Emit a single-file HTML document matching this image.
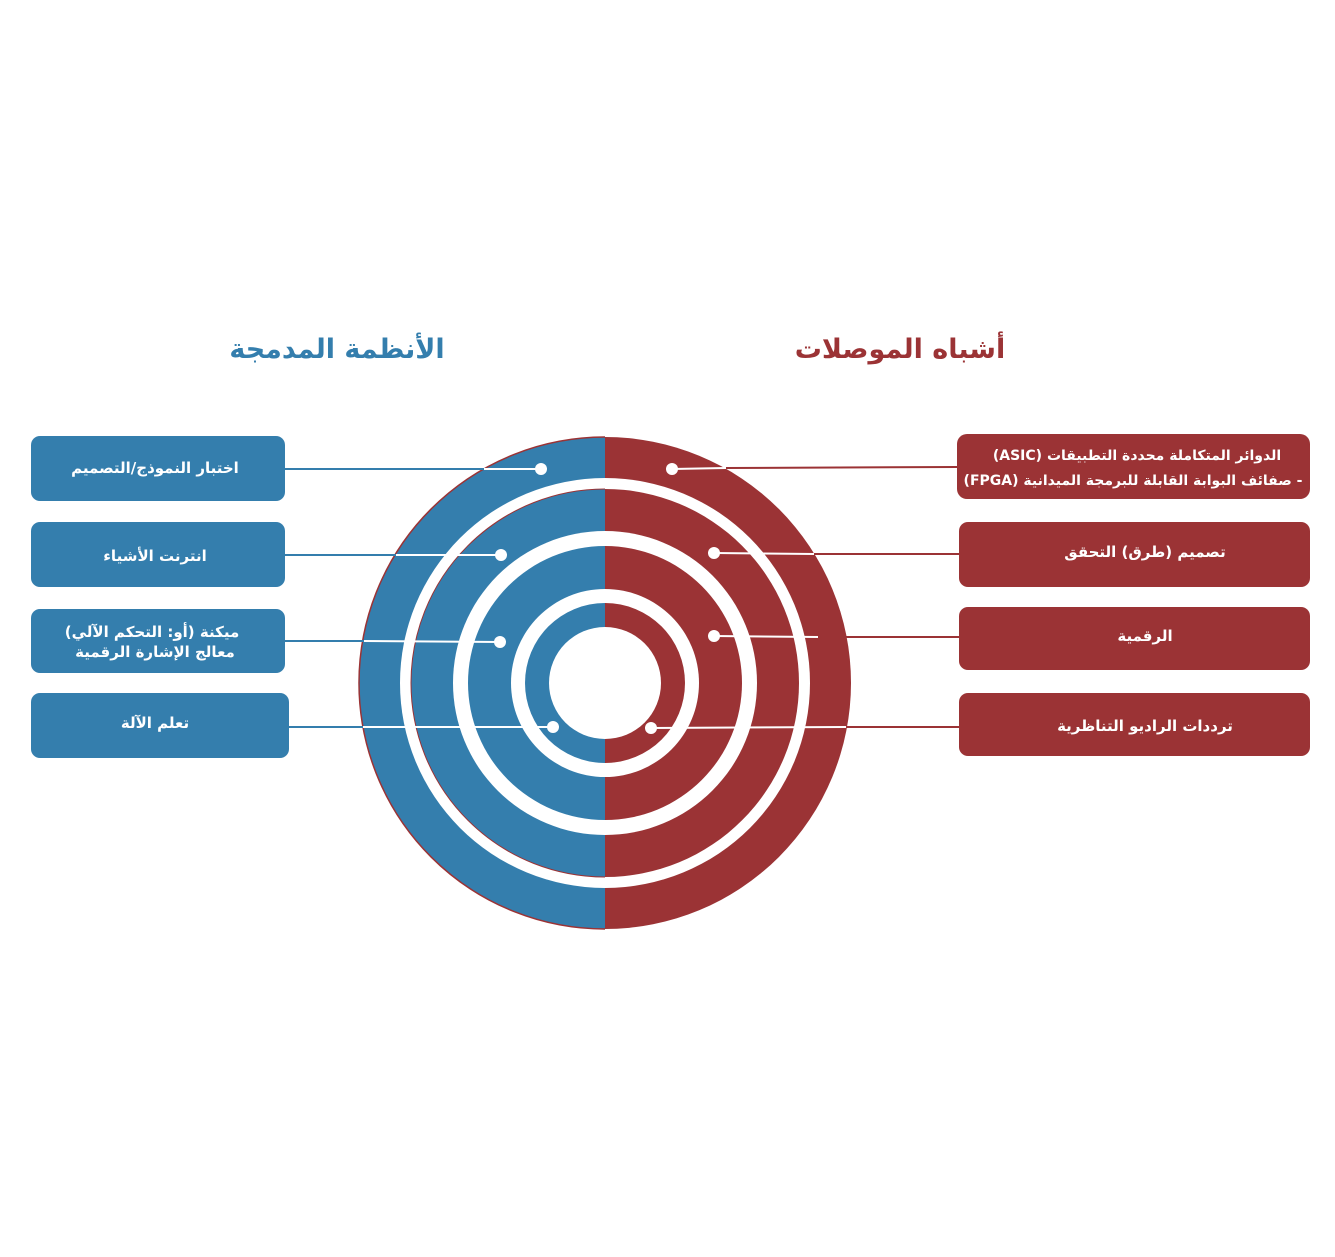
<!DOCTYPE html>
<html><head><meta charset="utf-8"><style>
html,body{margin:0;padding:0;background:#fff;}
svg text{font-family:"DejaVu Sans","Liberation Sans",sans-serif;font-weight:bold;}
</style></head><body>
<svg width="1335" height="1252" viewBox="0 0 1335 1252" xmlns="http://www.w3.org/2000/svg">
<defs>
<clipPath id="L"><rect x="0" y="0" width="605" height="1252"/></clipPath>
<clipPath id="R"><rect x="605" y="0" width="730" height="1252"/></clipPath>
</defs>
<!-- titles -->
<text x="337" y="358" font-size="27" fill="#347EAD" text-anchor="middle" direction="rtl">الأنظمة المدمجة</text>
<text x="900" y="358" font-size="27" fill="#9B3335" text-anchor="middle" direction="rtl">أشباه الموصلات</text>

<!-- rings -->
<g clip-path="url(#R)">
<circle cx="605" cy="683" r="246" fill="#9B3335"/>
<circle cx="605" cy="683" r="205" fill="#fff"/>
<circle cx="605" cy="683" r="194" fill="#9B3335"/>
<circle cx="605" cy="683" r="152" fill="#fff"/>
<circle cx="605" cy="683" r="137" fill="#9B3335"/>
<circle cx="605" cy="683" r="94" fill="#fff"/>
<circle cx="605" cy="683" r="80" fill="#9B3335"/>
<circle cx="605" cy="683" r="56" fill="#fff"/>
</g>
<g clip-path="url(#L)">
<circle cx="605" cy="683" r="246" fill="#347EAD" stroke="#9B3335" stroke-width="1.5"/>
<circle cx="605" cy="683" r="205" fill="#fff"/>
<circle cx="605" cy="683" r="194" fill="#347EAD" stroke="#9B3335" stroke-width="1"/>
<circle cx="605" cy="683" r="152" fill="#fff"/>
<circle cx="605" cy="683" r="137" fill="#347EAD"/>
<circle cx="605" cy="683" r="94" fill="#fff"/>
<circle cx="605" cy="683" r="80" fill="#347EAD"/>
<circle cx="605" cy="683" r="56" fill="#fff"/>
</g>

<!-- left connectors -->
<g stroke-width="2">
<line x1="285" y1="469" x2="484" y2="469" stroke="#347EAD"/>
<line x1="484" y1="469" x2="541" y2="469" stroke="#fff"/>
<line x1="285" y1="555" x2="396" y2="555" stroke="#347EAD"/>
<line x1="396" y1="555" x2="501" y2="555" stroke="#fff"/>
<line x1="285" y1="641" x2="364" y2="641" stroke="#347EAD"/>
<line x1="364" y1="641" x2="500" y2="642" stroke="#fff"/>
<line x1="289" y1="727" x2="363" y2="727" stroke="#347EAD"/>
<line x1="363" y1="727" x2="553" y2="727" stroke="#fff"/>
<!-- right -->
<line x1="726" y1="468" x2="957" y2="467" stroke="#9B3335"/>
<line x1="672" y1="469" x2="726" y2="468" stroke="#fff"/>
<line x1="814" y1="554" x2="959" y2="554" stroke="#9B3335"/>
<line x1="714" y1="553" x2="814" y2="554" stroke="#fff"/>
<line x1="846" y1="637" x2="959" y2="637" stroke="#9B3335"/>
<line x1="714" y1="636" x2="818" y2="637" stroke="#fff"/>
<line x1="846" y1="727" x2="959" y2="727" stroke="#9B3335"/>
<line x1="651" y1="728" x2="846" y2="727" stroke="#fff"/>
</g>
<g fill="#fff">
<circle cx="541" cy="469" r="6"/><circle cx="501" cy="555" r="6"/>
<circle cx="500" cy="642" r="6"/><circle cx="553" cy="727" r="6"/>
<circle cx="672" cy="469" r="6"/><circle cx="714" cy="553" r="6"/>
<circle cx="714" cy="636" r="6"/><circle cx="651" cy="728" r="6"/>
</g>

<!-- left boxes -->
<g fill="#347EAD">
<rect x="31" y="436" width="254" height="65" rx="9"/>
<rect x="31" y="522" width="254" height="65" rx="9"/>
<rect x="31" y="609" width="254" height="64" rx="9"/>
<rect x="31" y="693" width="258" height="65" rx="9"/>
</g>
<g fill="#fff" font-size="15" text-anchor="middle" direction="rtl">
<text x="155" y="473">اختبار النموذج/التصميم</text>
<text x="155" y="561">انترنت الأشياء</text>
<text x="152" y="637">ميكنة (أو: التحكم الآلي)</text>
<text x="155" y="657">معالج الإشارة الرقمية</text>
<text x="155" y="728">تعلم الآلة</text>
</g>

<!-- right boxes -->
<g fill="#9B3335">
<rect x="957" y="434" width="353" height="65" rx="10"/>
<rect x="959" y="522" width="351" height="65" rx="9"/>
<rect x="959" y="607" width="351" height="63" rx="9"/>
<rect x="959" y="693" width="351" height="63" rx="9"/>
</g>
<g fill="#fff" font-size="14" text-anchor="middle" direction="rtl">
<text x="1137" y="460">الدوائر المتكاملة محددة التطبيقات (ASIC)</text>
<text x="1133" y="485">- صفائف البوابة القابلة للبرمجة الميدانية (FPGA)</text>
<text x="1145" y="557" font-size="15">تصميم (طرق) التحقق</text>
<text x="1145" y="641" font-size="15">الرقمية</text>
<text x="1145" y="731" font-size="15">ترددات الراديو التناظرية</text>
</g>
</svg>
</body></html>
